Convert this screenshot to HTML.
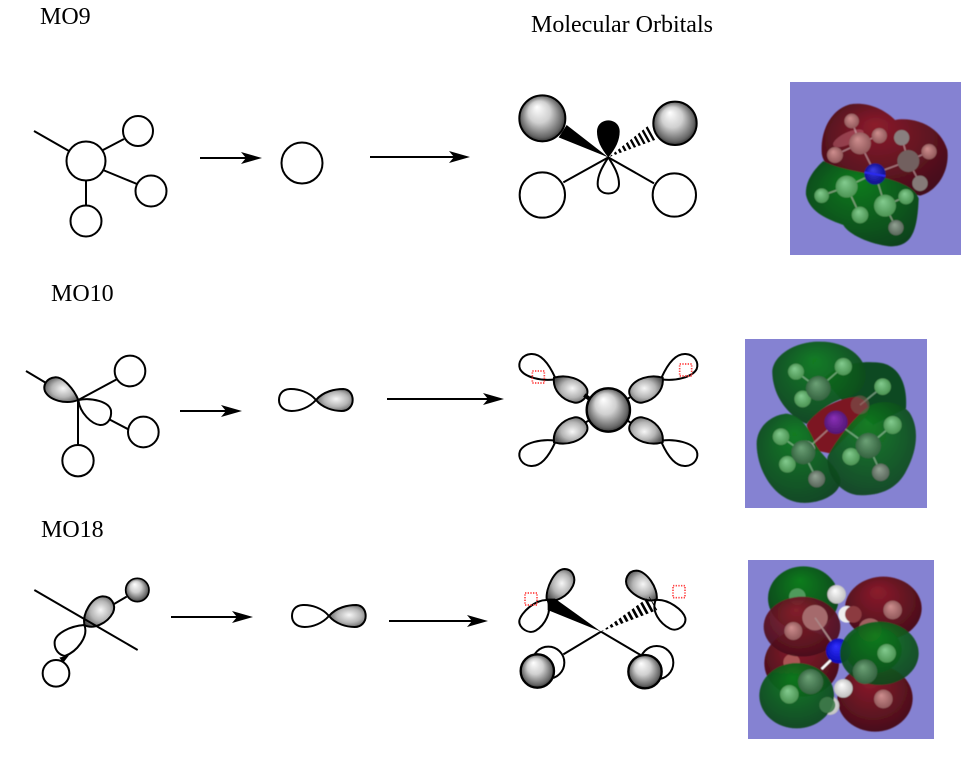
<!DOCTYPE html>
<html><head><meta charset="utf-8"><title>Molecular Orbitals</title>
<style>html,body{margin:0;padding:0;background:#fff}svg{display:block}text{font-family:"Liberation Serif",serif;font-size:24px;fill:#000}</style></head>
<body>
<svg width="964" height="782" viewBox="0 0 964 782" xmlns="http://www.w3.org/2000/svg">
<defs>
<radialGradient id="ball" cx=".5" cy=".5" r=".53" fx=".38" fy=".25"><stop offset="0" stop-color="#fff"/><stop offset=".45" stop-color="#d0d0d0"/><stop offset=".85" stop-color="#666"/><stop offset="1" stop-color="#222"/></radialGradient>
<radialGradient id="lg" cx=".55" cy=".5" r=".6" fx=".55" fy=".45"><stop offset="0" stop-color="#f6f6f6"/><stop offset=".55" stop-color="#b5b5b5"/><stop offset="1" stop-color="#555"/></radialGradient>
<radialGradient id="ar" cx=".5" cy=".5" r=".55" fx=".38" fy=".3"><stop offset="0" stop-color="#cf8f8f"/><stop offset="1" stop-color="#8e5658"/></radialGradient>
<radialGradient id="ag" cx=".5" cy=".5" r=".55" fx=".4" fy=".3"><stop offset="0" stop-color="#84cc90"/><stop offset="1" stop-color="#48904f"/></radialGradient>
<radialGradient id="ag2" cx=".5" cy=".5" r=".55" fx=".4" fy=".3"><stop offset="0" stop-color="#6da277"/><stop offset="1" stop-color="#315f3c"/></radialGradient>
<radialGradient id="ay" cx=".5" cy=".5" r=".55" fx=".4" fy=".3"><stop offset="0" stop-color="#93a394"/><stop offset="1" stop-color="#566458"/></radialGradient>
<radialGradient id="ab" cx=".5" cy=".5" r=".55" fx=".4" fy=".3"><stop offset="0" stop-color="#3a3ae8"/><stop offset="1" stop-color="#0c0c80"/></radialGradient>
<radialGradient id="ab2" cx=".5" cy=".5" r=".55" fx=".4" fy=".3"><stop offset="0" stop-color="#3030ff"/><stop offset="1" stop-color="#0808b0"/></radialGradient>
<radialGradient id="ap" cx=".5" cy=".5" r=".55" fx=".4" fy=".3"><stop offset="0" stop-color="#8a30b8"/><stop offset="1" stop-color="#4e1570"/></radialGradient>
<radialGradient id="aw" cx=".5" cy=".5" r=".55" fx=".4" fy=".3"><stop offset="0" stop-color="#fff"/><stop offset="1" stop-color="#bbb"/></radialGradient>
<radialGradient id="red" cx=".5" cy=".45" r=".65" fx=".42" fy=".22"><stop offset="0" stop-color="#8c1c2c"/><stop offset="1" stop-color="#3f0d19"/></radialGradient>
<radialGradient id="grn" cx=".5" cy=".45" r=".65" fx=".45" fy=".22"><stop offset="0" stop-color="#0d7c1a"/><stop offset="1" stop-color="#0f3f1c"/></radialGradient>
<filter id="soft" x="-5%" y="-5%" width="110%" height="110%"><feGaussianBlur stdDeviation="1.5"/></filter>
<clipPath id="h1"><polygon points="325,232 446,136 470,178"/></clipPath>
<clipPath id="h3"><polygon points="288,215 433,110 457,150"/></clipPath>
<path id="arrow" d="M0,0L-21,-6L-16,0L-21,6Z"/>
<g id="quad">
<path d="M150,112C132,72 108,40 78,42C50,44 38,68 45,87C58,112 110,124 150,118Z" fill="#fff"/>
<path d="M147,113C185,102 232,116 246,147C254,170 225,194 205,187C172,180 142,150 147,113Z" fill="url(#lg)"/>
</g>
</defs>

<rect width="964" height="782" fill="#fff"/>
<text x="40" y="24">MO9</text>
<text x="531" y="32">Molecular Orbitals</text>
<text x="51" y="301">MO10</text>
<text x="41" y="537">MO18</text>

<!-- arrows -->
<g stroke="#000" stroke-width="2">
<line x1="200" y1="158" x2="248" y2="158"/><line x1="370" y1="157" x2="455" y2="157"/>
<line x1="180" y1="411" x2="228" y2="411"/><line x1="387" y1="399" x2="490" y2="399"/>
<line x1="171" y1="617" x2="239" y2="617"/><line x1="389" y1="621" x2="474" y2="621"/>
</g>
<use href="#arrow" transform="translate(262,158)"/><use href="#arrow" transform="translate(470,157)"/>
<use href="#arrow" transform="translate(242,411)"/><use href="#arrow" transform="translate(504,399)"/>
<use href="#arrow" transform="translate(253,617)"/><use href="#arrow" transform="translate(488,621)"/>

<!-- Row 1 left -->
<g fill="#fff" stroke="#000" stroke-width="2">
<line x1="34" y1="131" x2="69" y2="151"/><line x1="103" y1="150" x2="124" y2="139"/><line x1="103" y1="170" x2="137" y2="184"/><line x1="86" y1="181" x2="86" y2="206"/>
<circle cx="86" cy="161" r="19.5"/><circle cx="138" cy="131" r="15"/><circle cx="151" cy="191" r="15.5"/><circle cx="86" cy="221" r="15.5"/>
<circle cx="302" cy="163" r="20.5"/>
</g>

<!-- Row 1 right -->
<g transform="translate(500,80) scale(.33333)">
<g fill="#fff" stroke="#000" stroke-width="6">
<line x1="325" y1="232" x2="190" y2="307"/><line x1="325" y1="232" x2="462" y2="310"/>
<circle cx="127" cy="345" r="68"/><circle cx="523" cy="345" r="65"/>
</g>
<path d="M325,232C306,262 293,285 293,312C293,350 357,350 357,312C357,285 344,262 325,232Z" fill="#fff" stroke="#000" stroke-width="6"/>
<path d="M325,232C302,205 291,180 291,155C291,110 359,110 359,155C359,180 348,205 325,232Z" fill="#000"/>
<polygon points="325,232 200,135 176,172" fill="#000"/>
<line x1="325" y1="232" x2="465" y2="154" stroke="#000" stroke-width="50" stroke-dasharray="7 8" stroke-dashoffset="-6" clip-path="url(#h1)"/>
<circle cx="127" cy="115" r="69" fill="url(#ball)" stroke="#000" stroke-width="6"/>
<circle cx="525" cy="130" r="65" fill="url(#ball)" stroke="#000" stroke-width="6"/>
</g>

<!-- Row 2 left -->
<g transform="translate(20,350) scale(.33333)" fill="#fff" stroke="#000" stroke-width="6">
<line x1="18" y1="63" x2="85" y2="103"/><line x1="175" y1="150" x2="290" y2="88"/><line x1="174" y1="150" x2="174" y2="286"/><line x1="268" y1="208" x2="325" y2="238"/>
<circle cx="330" cy="63" r="46"/><circle cx="370" cy="246" r="46"/><circle cx="174" cy="332" r="47"/>
<path d="M175,150C162,118 130,80 105,82C80,84 68,105 75,124C88,150 135,165 175,150Z" fill="url(#lg)"/>
<path d="M175,150C215,142 268,155 273,182C276,208 260,226 240,225C215,222 180,190 175,150Z"/>
</g>

<!-- Hybrids -->
<g transform="translate(270,380) scale(.33333)" stroke="#000" stroke-width="6">
<path d="M138,60C118,36 85,26 60,27C35,28 27,45 27,60C27,78 40,93 65,93C90,93 118,82 138,60Z" fill="#fff"/>
<path d="M138,60C160,34 195,27 220,27C240,28 248,45 248,60C248,78 235,93 215,93C190,93 158,84 138,60Z" fill="url(#lg)"/>
</g>
<g transform="translate(283,596) scale(.33333)" stroke="#000" stroke-width="6">
<path d="M138,60C118,36 85,26 60,27C35,28 27,45 27,60C27,78 40,93 65,93C90,93 118,82 138,60Z" fill="#fff"/>
<path d="M138,60C160,34 195,27 220,27C240,28 248,45 248,60C248,78 235,93 215,93C190,93 158,84 138,60Z" fill="url(#lg)"/>
</g>

<!-- Row 2 right -->
<g transform="translate(505,340) scale(.33333)" stroke="#000" stroke-width="6">
<use href="#quad"/>
<use href="#quad" transform="translate(620,0) scale(-1,1)"/>
<use href="#quad" transform="translate(0,420) scale(1,-1)"/>
<use href="#quad" transform="translate(620,420) scale(-1,-1)"/>
<line x1="238" y1="165" x2="258" y2="180" stroke-width="12"/><line x1="240" y1="248" x2="255" y2="240"/><line x1="362" y1="180" x2="375" y2="172"/><line x1="365" y1="240" x2="380" y2="250"/>
<circle cx="310" cy="210" r="65" fill="url(#ball)" stroke-width="7"/>
<rect x="82" y="93" width="36" height="36" fill="none" stroke="#f44" stroke-width="5" stroke-dasharray="4 4"/>
<rect x="524" y="72" width="36" height="36" fill="none" stroke="#f44" stroke-width="5" stroke-dasharray="4 4"/>
</g>

<!-- Row 3 left -->
<g transform="translate(25,570) scale(.33333)" stroke="#000" stroke-width="6">
<line x1="262" y1="105" x2="305" y2="80"/>
<path d="M178,165C135,168 92,190 89,215C87,240 103,255 120,258C155,245 192,200 178,165Z" fill="#fff"/>
<path d="M178,165C172,130 200,82 232,79C260,78 274,105 264,128C247,160 205,180 178,165Z" fill="url(#lg)"/>
<line x1="28" y1="60" x2="338" y2="240"/>
<circle cx="93" cy="310" r="40" fill="#fff"/>
<polygon points="103,263 132,256 115,278" fill="#000" stroke="none"/>
<circle cx="337" cy="60" r="35" fill="url(#ball)" stroke-width="5"/>
</g>

<!-- Row 3 right -->
<g transform="translate(505,560) scale(.33333)" stroke="#000" stroke-width="6">
<line x1="288" y1="215" x2="175" y2="283"/><line x1="288" y1="215" x2="410" y2="287"/>
<circle cx="130" cy="308" r="48" fill="#fff"/><circle cx="455" cy="308" r="50" fill="#fff"/>
<circle cx="97" cy="333" r="50" fill="url(#ball)" stroke-width="7"/><circle cx="420" cy="335" r="50" fill="url(#ball)" stroke-width="7"/>
<path d="M128,120C90,118 48,158 43,182C40,204 72,224 92,212C120,195 142,155 128,120Z" fill="#fff"/>
<path d="M452,120C490,116 534,150 541,174C545,198 515,216 495,206C465,190 438,155 452,120Z" fill="#fff"/>
<path d="M125,118C122,85 148,28 178,27C204,27 214,55 204,77C188,110 150,130 125,118Z" fill="url(#lg)"/>
<path d="M455,118C460,85 425,33 395,32C368,32 356,60 368,82C385,108 428,130 455,118Z" fill="url(#lg)"/>
<polygon points="288,215 150,116 128,116 128,150" fill="#000" stroke="none"/>
<line x1="288" y1="215" x2="450" y2="126" stroke-width="50" stroke-dasharray="8 8" stroke-dashoffset="-16" clip-path="url(#h3)"/>
<rect x="60" y="99" width="36" height="36" fill="none" stroke="#f44" stroke-width="5" stroke-dasharray="4 4"/>
<rect x="504" y="77" width="36" height="36" fill="none" stroke="#f44" stroke-width="5" stroke-dasharray="4 4"/>
</g>

<!-- Panel 1 -->
<rect x="790" y="82" width="171" height="173" fill="#8582d2"/>
<g transform="translate(780,75) scale(.33333)" filter="url(#soft)">
<path d="M125,230C122,170 150,105 210,88C260,80 310,100 345,135C400,125 480,150 502,225C510,290 470,350 420,362C380,355 340,325 310,315C250,290 170,290 135,262C128,250 125,240 125,230Z" fill="url(#red)"/>
<path d="M130,258C100,285 75,320 78,360C90,415 150,435 190,450C205,478 270,508 330,514C390,514 412,480 416,370C405,340 370,325 320,310C250,290 180,285 130,258Z" fill="url(#grn)"/>
<ellipse cx="205" cy="190" rx="50" ry="18" transform="rotate(-25 205 190)" fill="#c06a78" opacity=".5"/>
<g stroke="#e0d0d0" stroke-width="5" opacity=".5"><line x1="215" y1="138" x2="240" y2="205"/><line x1="240" y1="205" x2="295" y2="182"/><line x1="240" y1="205" x2="165" y2="240"/><line x1="240" y1="205" x2="285" y2="295"/><line x1="285" y1="295" x2="385" y2="258"/><line x1="385" y1="258" x2="365" y2="188"/><line x1="385" y1="258" x2="447" y2="230"/><line x1="385" y1="258" x2="420" y2="325"/><line x1="285" y1="295" x2="200" y2="335"/><line x1="200" y1="335" x2="125" y2="362"/><line x1="200" y1="335" x2="240" y2="420"/><line x1="285" y1="295" x2="315" y2="392"/><line x1="315" y1="392" x2="378" y2="365"/><line x1="315" y1="392" x2="348" y2="458"/></g>
<circle cx="215" cy="138" r="22" fill="url(#ar)"/><circle cx="240" cy="205" r="33" fill="url(#ar)"/><circle cx="298" cy="182" r="23" fill="url(#ar)"/><circle cx="165" cy="240" r="24" fill="url(#ar)"/>
<circle cx="365" cy="188" r="23" fill="#897f7f"/><circle cx="385" cy="258" r="33" fill="#72615f"/><circle cx="447" cy="230" r="23" fill="url(#ar)"/><circle cx="420" cy="325" r="23" fill="#857a78"/>
<circle cx="200" cy="335" r="33" fill="url(#ag)"/><circle cx="125" cy="362" r="22" fill="url(#ag)"/><circle cx="240" cy="420" r="25" fill="url(#ag)"/><circle cx="315" cy="392" r="33" fill="url(#ag)"/><circle cx="378" cy="365" r="23" fill="url(#ag)"/><circle cx="348" cy="458" r="23" fill="url(#ay)"/>
<circle cx="285" cy="297" r="32" fill="url(#ab)"/><path d="M254,292L316,303" stroke="#2a2af0" stroke-width="6"/>
</g>

<!-- Panel 2 -->
<rect x="745" y="339" width="182" height="169" fill="#8582d2"/>
<g transform="translate(740,335) scale(.33333)" filter="url(#soft)">
<path d="M250,130C300,85 370,75 430,85C485,100 502,160 498,220L400,270L300,190Z" fill="#114a22"/>
<path d="M200,270C220,225 300,188 350,186C378,192 390,215 382,240L270,355L222,345Z" fill="#7c1422"/>
<path d="M97,115C95,60 170,18 240,20C320,20 375,65 377,115C380,155 350,178 330,185C280,195 235,225 200,267C150,245 100,190 97,115Z" fill="url(#grn)" opacity=".95"/>
<path d="M50,330C48,280 90,240 140,236C175,240 205,270 225,325C245,365 300,400 302,440C295,485 230,508 180,503C105,495 52,410 50,330Z" fill="url(#grn)" opacity=".95"/>
<path d="M262,370C270,340 345,240 390,212C430,190 490,205 510,235C538,280 532,345 500,405C470,468 410,484 350,480C295,470 262,420 262,370Z" fill="url(#grn)" opacity=".93"/>
<g stroke="#d8e8d8" stroke-width="5" opacity=".45"><line x1="235" y1="160" x2="168" y2="110"/><line x1="235" y1="160" x2="310" y2="95"/><line x1="235" y1="160" x2="188" y2="192"/><line x1="288" y1="262" x2="190" y2="352"/><line x1="190" y1="352" x2="123" y2="305"/><line x1="190" y1="352" x2="142" y2="388"/><line x1="190" y1="352" x2="230" y2="432"/><line x1="288" y1="262" x2="385" y2="332"/><line x1="385" y1="332" x2="458" y2="270"/><line x1="385" y1="332" x2="333" y2="365"/><line x1="385" y1="332" x2="422" y2="412"/><line x1="360" y1="210" x2="428" y2="155"/></g>
<ellipse cx="205" cy="335" rx="22" ry="15" transform="rotate(35 205 335)" fill="#b9b4bc"/>
<circle cx="168" cy="110" r="24" fill="url(#ag)"/><circle cx="310" cy="95" r="26" fill="url(#ag)"/><circle cx="188" cy="192" r="25" fill="url(#ag)"/><circle cx="235" cy="160" r="37" fill="url(#ag2)"/>
<circle cx="428" cy="155" r="25" fill="url(#ag)"/><circle cx="360" cy="210" r="28" fill="#7a5a50" opacity=".6"/>
<circle cx="123" cy="305" r="25" fill="url(#ag)"/><circle cx="142" cy="388" r="25" fill="url(#ag)"/><circle cx="190" cy="352" r="36" fill="url(#ag2)"/><circle cx="230" cy="432" r="25" fill="url(#ay)"/>
<circle cx="458" cy="270" r="27" fill="url(#ag)"/><circle cx="333" cy="365" r="26" fill="url(#ag)"/><circle cx="385" cy="332" r="38" fill="url(#ag2)"/><circle cx="422" cy="412" r="26" fill="url(#ay)"/>
<circle cx="288" cy="262" r="35" fill="url(#ap)"/>
</g>

<!-- Panel 3 -->
<rect x="748" y="560" width="186" height="179" fill="#8582d2"/>
<g transform="translate(740,555) scale(.33333)" filter="url(#soft)">
<ellipse cx="190" cy="130" rx="106" ry="96" fill="url(#grn)"/>
<ellipse cx="430" cy="160" rx="115" ry="95" fill="url(#red)"/>
<ellipse cx="185" cy="325" rx="112" ry="100" fill="url(#red)"/>
<ellipse cx="405" cy="430" rx="113" ry="100" fill="url(#red)"/>
<ellipse cx="400" cy="285" rx="85" ry="70" fill="#0a6a18"/>
<circle cx="172" cy="125" r="25" fill="#4f9a5c"/><circle cx="290" cy="118" r="28" fill="url(#aw)"/><circle cx="320" cy="178" r="25" fill="#eee"/>
<circle cx="340" cy="178" r="25" fill="#8c3a40"/><circle cx="458" cy="165" r="28" fill="url(#ar)"/><circle cx="390" cy="225" r="35" fill="#a06060"/>
<circle cx="155" cy="322" r="25" fill="#a55"/><circle cx="430" cy="432" r="28" fill="url(#ar)"/>
<ellipse cx="186" cy="215" rx="115" ry="90" fill="url(#red)" opacity=".93"/>
<circle cx="225" cy="188" r="38" fill="#a56a6c"/><circle cx="160" cy="228" r="27" fill="url(#ar)"/>
<line x1="225" y1="188" x2="295" y2="290" stroke="#a88" stroke-width="5"/>
<circle cx="270" cy="452" r="28" fill="url(#aw)"/>
<circle cx="295" cy="288" r="37" fill="url(#ab2)"/>
<line x1="272" y1="316" x2="245" y2="342" stroke="#fff" stroke-width="7"/>
<ellipse cx="170" cy="422" rx="112" ry="98" fill="url(#grn)" opacity=".95"/>
<circle cx="148" cy="418" r="28" fill="url(#ag)"/><circle cx="212" cy="380" r="38" fill="url(#ag2)"/><circle cx="262" cy="450" r="24" fill="#3f7a4a" opacity=".9"/>
<circle cx="310" cy="400" r="28" fill="url(#aw)"/>
<ellipse cx="418" cy="295" rx="118" ry="95" fill="url(#grn)" opacity=".93"/>
<circle cx="440" cy="295" r="28" fill="url(#ag)"/><circle cx="375" cy="350" r="37" fill="url(#ag2)"/>
</g>
</svg>
</body></html>
